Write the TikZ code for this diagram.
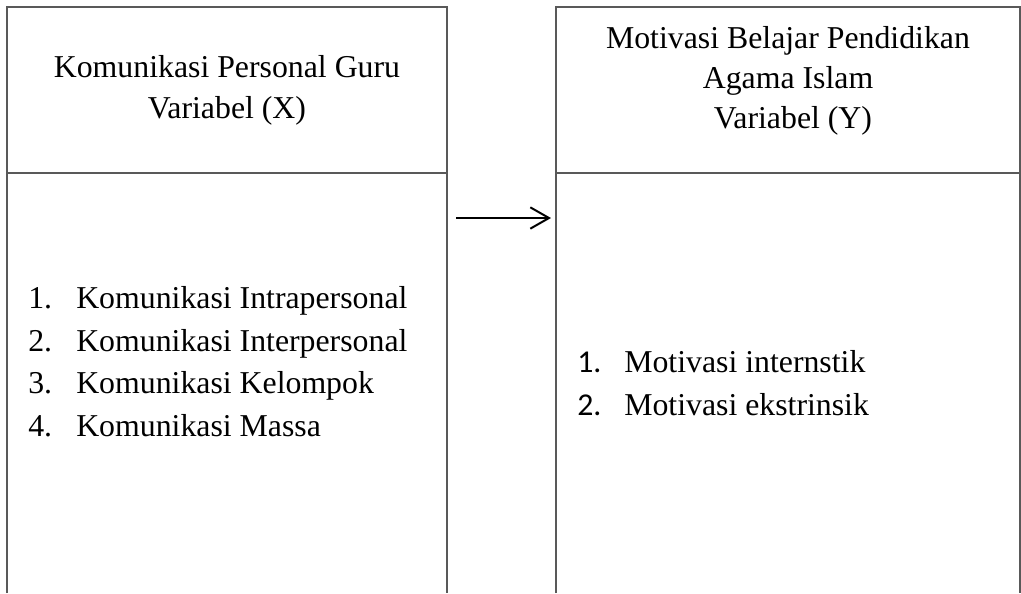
\documentclass[tikz,border=0pt]{standalone}
\usepackage{fontspec}
\setmainfont{Liberation Serif}
\newfontfamily\calibri{Carlito}
\usetikzlibrary{arrows.meta}

\begin{document}
\begin{tikzpicture}[x=0.75pt,y=-0.75pt,
  head/.style={anchor=base,inner sep=0pt,font=\fontsize{23.85}{30}\selectfont},
  item/.style={anchor=base west,inner sep=0pt,font=\fontsize{23.85}{30}\selectfont},
  frame/.style={draw=black!65,line width=1.3pt}]
  \useasboundingbox (0,0) rectangle (1021,593);
  % the two open boxes
  \draw[frame] (7,593) -- (7,7) -- (447,7) -- (447,593) (7,173) -- (447,173);
  \draw[frame] (556,593) -- (556,7) -- (1020,7) -- (1020,593) (556,173) -- (1020,173);
  % headers
  \draw(227,77) node[head] (X1) {Komunikasi Personal Guru};
  \draw(227,118) node[head] (X2) {Variabel (X)};
  \draw(788,48) node[head] (Y1) {Motivasi Belajar Pendidikan};
  \draw(788,88) node[head] (Y2) {Agama Islam};
  \draw(793,128) node[head] (Y3) {Variabel (Y)};
  % left list
  \draw(28,308) node[item] (A1) {1.};
  \draw(76,308) node[item] (B1) {Komunikasi Intrapersonal};
  \draw(28,351) node[item] (A2) {2.};
  \draw(76,351) node[item] (B2) {Komunikasi Interpersonal};
  \draw(28,393) node[item] (A3) {3.};
  \draw(76,393) node[item] (B3) {Komunikasi Kelompok};
  \draw(28,436) node[item] (A4) {4.};
  \draw(76,436) node[item] (B4) {Komunikasi Massa};
  % right list
  \draw(577,372) node[item,font=\calibri\fontsize{23.85}{30}\selectfont] (C1) {1.};
  \draw(624,372) node[item] (D1) {Motivasi internstik};
  \draw(577,415) node[item,font=\calibri\fontsize{23.85}{30}\selectfont] (C2) {2.};
  \draw(624,415) node[item] (D2) {Motivasi ekstrinsik};
  % arrow
  \coordinate (P) at (456,218);
  \coordinate (Q) at (551,218);
  \draw[line width=1.5pt,-{Straight Barb[length=14pt,width=16pt]}] (P) -- (Q);
\end{tikzpicture}
\end{document}
